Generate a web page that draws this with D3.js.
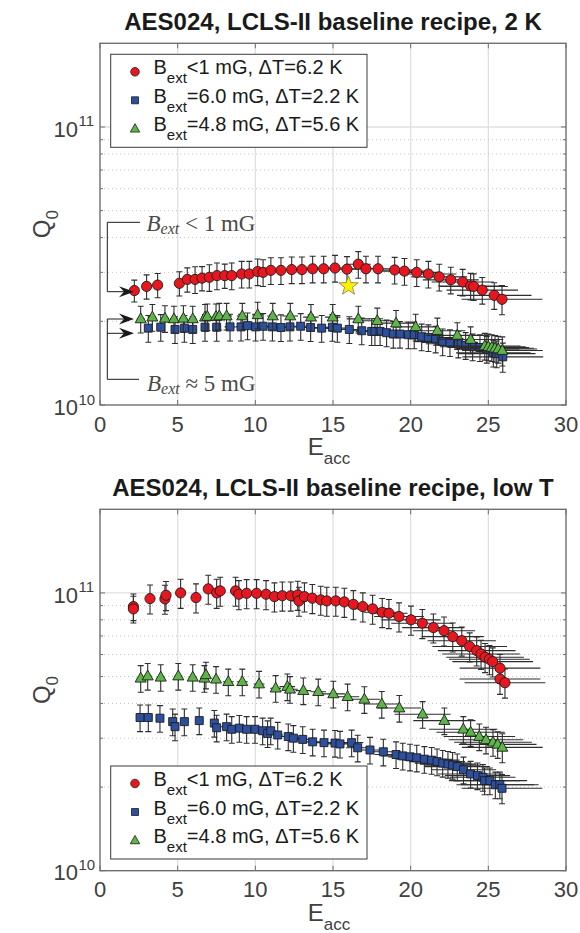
<!DOCTYPE html>
<html><head><meta charset="utf-8">
<script src="https://cdn.jsdelivr.net/npm/d3@7"></script>
<style>body{margin:0;background:#fff}svg{display:block}</style>
</head><body>
<svg id="c" width="580" height="933"></svg>
<script>
// ---------------- DATA ----------------
const xDomain = [0, 30];
const yDomain = [1e10, 2e11];
const xTickValues = [0, 5, 10, 15, 20, 25, 30];
const xTickLabels = ["0", "5", "10", "15", "20", "25", "30"];
const yMajorTicks = [1e10, 1e11];
const yTickExp = ["10", "11"];
const yMinorTicks = [2e10, 3e10, 4e10, 5e10, 6e10, 7e10, 8e10, 9e10];
const seriesNames = ["<1 mG, \u0394T=6.2 K", "=6.0 mG, \u0394T=2.2 K", "=4.8 mG, \u0394T=5.6 K"];
const titles = ["AES024, LCLS-II baseline recipe, 2 K", "AES024, LCLS-II baseline recipe, low T"];

// 2 K panel (Q0 in units of 1e10)
const redTopE = [2.21,3.0,3.71,5.11,5.62,6.12,6.57,7.04,7.53,8.03,8.48,9.12,9.61,10.15,10.5,11.0,11.65,12.34,13.0,13.69,14.4,15.13,15.9,16.63,17.12,17.9,18.97,19.6,20.39,21.14,21.84,22.58,23.35,23.86,24.06,24.61,25.38,25.88];
const redTopQ = [2.58,2.67,2.70,2.74,2.83,2.83,2.86,2.88,2.92,2.92,2.92,2.96,2.96,3.02,3.00,3.05,3.05,3.07,3.07,3.09,3.09,3.11,3.08,3.21,3.09,3.09,3.06,3.03,3.00,2.96,2.89,2.82,2.77,2.68,2.67,2.59,2.48,2.40];
const redTopXerr = [0.25,0.25,0.25,0.25,0.25,0.25,0.25,0.25,0.25,0.35,0.35,0.35,0.35,0.35,0.35,0.35,0.35,0.5,0.5,0.5,0.5,0.75,0.75,0.8,1.0,1.0,1.2,1.4,1.4,1.8,1.8,1.8,2.0,2.1,2.2,2.3,2.4,2.6];
const redTopYerr = [0.09,0.10,0.10,0.10,0.10,0.11,0.10,0.11,0.11,0.10,0.11,0.11,0.11,0.11,0.11,0.11,0.11,0.11,0.11,0.11,0.11,0.11,0.11,0.11,0.11,0.11,0.11,0.11,0.11,0.11,0.11,0.11,0.11,0.11,0.11,0.11,0.11,0.12];

const blueTopE = [3.11,3.91,4.83,5.43,5.97,6.76,7.51,8.37,9.08,9.5,10.02,10.5,11.1,11.65,12.23,12.92,13.56,14.27,14.96,15.28,16.05,16.85,17.49,17.7,18.03,18.45,18.88,19.31,19.85,20.23,20.71,21.14,21.61,22.06,22.53,23.07,23.54,23.99,24.46,24.9,25.32,25.54,25.93];
const blueTopQ = [1.89,1.905,1.87,1.89,1.87,1.905,1.905,1.91,1.91,1.93,1.91,1.92,1.91,1.90,1.91,1.92,1.90,1.89,1.905,1.89,1.87,1.85,1.84,1.84,1.84,1.82,1.80,1.80,1.79,1.79,1.76,1.75,1.73,1.69,1.68,1.66,1.64,1.62,1.61,1.59,1.54,1.53,1.49];
const blueTopXerr = [0.25,0.25,0.25,0.25,0.25,0.25,0.25,0.35,0.35,0.35,0.35,0.35,0.35,0.35,0.5,0.5,0.5,0.5,0.5,0.75,0.75,0.75,1.0,1.0,1.0,1.0,1.0,1.4,1.4,1.4,1.4,1.8,1.8,1.8,1.8,2.1,2.1,2.1,2.1,2.1,2.4,2.5,2.6];
const blueTopYerr = [0.11,0.11,0.11,0.11,0.11,0.11,0.11,0.11,0.11,0.11,0.11,0.11,0.11,0.11,0.11,0.11,0.11,0.11,0.11,0.11,0.11,0.11,0.11,0.11,0.11,0.11,0.11,0.11,0.11,0.11,0.11,0.11,0.11,0.11,0.11,0.11,0.11,0.11,0.11,0.11,0.11,0.11,0.12];

const greenTopE = [2.62,3.37,4.18,4.76,5.37,5.97,6.76,6.91,7.47,7.68,8.15,9.16,10.15,11.12,12.25,13.58,14.98,16.63,17.85,19.06,20.32,21.72,23.0,23.86,24.77,25.0,25.22,25.43,25.64,25.9];
const greenTopQ = [2.04,2.07,2.05,2.04,2.05,2.04,2.07,2.08,2.08,2.09,2.09,2.09,2.11,2.09,2.09,2.07,2.07,2.04,2.01,1.97,1.91,1.85,1.78,1.72,1.63,1.62,1.61,1.60,1.59,1.57];
const greenTopXerr = [0.25,0.25,0.25,0.25,0.25,0.25,0.25,0.25,0.25,0.25,0.35,0.35,0.35,0.35,0.5,0.5,0.5,0.75,1.0,1.2,1.4,1.8,2.0,2.1,2.3,2.4,2.4,2.5,2.5,2.6];
const greenTopYerr = [0.11,0.11,0.11,0.11,0.11,0.11,0.11,0.11,0.11,0.11,0.11,0.11,0.11,0.11,0.11,0.11,0.11,0.11,0.11,0.11,0.11,0.11,0.11,0.11,0.11,0.11,0.11,0.11,0.11,0.12];

const starE = [16.0];
const starQ = [2.68];

// low T panel (Q0 in units of 1e10)
const redLowE = [2.15,2.15,3.22,4.18,4.25,5.19,6.18,6.97,7.51,7.74,8.73,8.94,9.44,10.08,10.69,11.23,11.74,12.28,12.73,12.81,13.16,13.67,14.21,14.6,15.18,15.73,16.31,16.92,17.55,18.17,18.6,19.25,20.02,20.75,21.46,22.15,22.71,23.29,23.8,24.25,24.53,24.79,25.07,25.28,25.75,25.75,26.07];
const redLowQ = [8.93,8.76,9.54,9.52,9.81,10.0,9.62,10.34,10.0,10.17,10.17,9.89,9.97,9.97,9.89,9.70,9.77,9.77,9.83,9.36,9.70,9.57,9.44,9.36,9.36,9.28,9.10,8.93,8.76,8.52,8.45,8.22,8.0,7.78,7.5,7.31,6.96,6.73,6.41,6.20,6.03,5.87,5.77,5.66,5.36,4.90,4.75];
const redLowXerr = [0.25,0.25,0.25,0.25,0.25,0.25,0.25,0.25,0.25,0.25,0.35,0.35,0.35,0.35,0.35,0.35,0.35,0.5,0.5,0.5,0.5,0.5,0.5,0.5,0.75,0.75,0.75,0.75,1.2,1.2,1.2,1.6,1.9,2.0,2.0,2.0,2.0,2.2,2.4,2.5,2.5,2.5,2.6,2.6,2.6,2.6,2.6];
const redLowYerr = [0.11,0.11,0.12,0.12,0.12,0.12,0.12,0.12,0.12,0.12,0.12,0.12,0.12,0.12,0.12,0.12,0.12,0.12,0.12,0.12,0.12,0.12,0.12,0.12,0.12,0.12,0.12,0.12,0.12,0.12,0.12,0.12,0.12,0.12,0.12,0.12,0.12,0.12,0.12,0.12,0.12,0.12,0.12,0.12,0.12,0.12,0.12];

const blueLowE = [2.58,3.11,3.86,4.68,4.83,5.43,6.39,7.36,7.51,8.15,8.48,8.97,9.44,9.98,10.47,10.79,10.99,11.44,12.12,12.45,13.05,13.69,14.42,15.13,15.45,16.2,16.59,17.38,18.24,19.06,19.49,19.96,20.39,20.88,21.35,21.7,22.06,22.4,22.7,23.0,23.4,23.86,24.3,24.65,24.76,25.1,25.45,25.74,25.88];
const blueLowQ = [3.56,3.56,3.54,3.44,3.30,3.44,3.47,3.40,3.27,3.30,3.23,3.26,3.23,3.23,3.19,3.12,3.19,3.08,3.04,3.00,2.97,2.91,2.89,2.88,2.86,2.89,2.77,2.72,2.68,2.62,2.59,2.57,2.55,2.52,2.50,2.47,2.44,2.42,2.40,2.37,2.31,2.23,2.20,2.17,2.11,2.11,2.04,2.04,1.98];
const blueLowXerr = [0.25,0.25,0.25,0.25,0.25,0.25,0.25,0.25,0.25,0.35,0.35,0.35,0.35,0.35,0.35,0.35,0.35,0.35,0.5,0.5,0.5,0.5,0.5,0.75,0.75,0.75,0.75,1.0,1.0,1.4,1.4,1.4,1.4,1.8,1.8,1.8,1.8,1.8,1.8,2.1,2.1,2.1,2.1,2.1,2.3,2.4,2.5,2.5,2.6];
const blueLowYerr = [0.11,0.11,0.11,0.11,0.11,0.11,0.11,0.11,0.11,0.11,0.11,0.11,0.11,0.11,0.11,0.11,0.11,0.11,0.11,0.11,0.11,0.11,0.11,0.11,0.11,0.11,0.11,0.11,0.11,0.11,0.11,0.11,0.11,0.11,0.11,0.11,0.11,0.11,0.11,0.11,0.11,0.11,0.11,0.11,0.11,0.11,0.11,0.11,0.12];

const greenLowE = [2.62,3.07,3.91,5.04,5.97,6.72,6.82,7.47,8.26,9.16,10.24,11.31,12.06,12.23,13.09,14.05,15.02,15.94,17.02,18.14,19.27,20.77,22.17,23.39,23.86,24.42,24.85,25.3,25.6,25.9];
const greenLowQ = [4.93,5.02,4.97,5.02,4.97,4.93,5.07,4.89,4.79,4.79,4.70,4.54,4.60,4.50,4.45,4.41,4.33,4.23,4.14,3.98,3.85,3.66,3.47,3.23,3.15,3.04,2.96,2.90,2.85,2.78];
const greenLowXerr = [0.25,0.25,0.25,0.25,0.25,0.25,0.25,0.25,0.35,0.35,0.35,0.35,0.5,0.5,0.5,0.5,0.75,0.75,1.0,1.2,1.4,1.8,2.0,2.2,2.2,2.3,2.4,2.5,2.5,2.6];
const greenLowYerr = [0.11,0.11,0.11,0.11,0.11,0.11,0.11,0.11,0.11,0.11,0.11,0.11,0.11,0.11,0.11,0.11,0.11,0.11,0.11,0.11,0.11,0.11,0.11,0.11,0.11,0.11,0.11,0.11,0.11,0.12];

// ---------------- STYLE ----------------
const FONT = '"Liberation Sans", Arial, Helvetica, sans-serif';
const SERIF = '"Liberation Serif", "DejaVu Serif", serif';
const COL = { red: "#e8171f", blue: "#2c4f9e", green: "#5db548" };
const AXIS = "#6f6f6f", TXT = "#404040", EDGE = "#1c1c1c", BAR = "#2d2d2d";

const svg = d3.select("#c");

function markerPath(shape, s) {
  if (shape === "circle") return d3.symbol(d3.symbolCircle, Math.PI * s * s)();
  if (shape === "square") return `M${-s},${-s}H${s}V${s}H${-s}Z`;
  return `M0,${-s * 1.25}L${s * 1.15},${s * 0.8}L${-s * 1.15},${s * 0.8}Z`;
}

function drawSeries(g, x, y, s) {
  const pts = s.E.map((e, i) => ({ e, q: s.Q[i] * 1e10, xe: s.xerr[i], ye: s.yerr[i] }));
  const gs = g.append("g");
  gs.append("g").selectAll("path").data(pts).join("path")
    .attr("fill", "none").attr("stroke", BAR).attr("stroke-width", 1.1)
    .attr("d", p => {
      const cx = x(p.e), cy = y(p.q);
      const y1 = y(p.q * (1 - p.ye)), y2 = y(p.q * (1 + p.ye));
      const c = 3;
      return `M${cx},${y1}V${y2}M${cx - c},${y1}H${cx + c}M${cx - c},${y2}H${cx + c}` +
             `M${x(p.e - p.xe)},${cy}H${x(p.e + p.xe)}`;
    });
  gs.append("g").selectAll("path").data(pts).join("path")
    .attr("transform", p => `translate(${x(p.e)},${y(p.q)})`)
    .attr("d", markerPath(s.shape, s.size))
    .attr("fill", s.color).attr("stroke", EDGE).attr("stroke-width", 0.9);
}

function starPath(R, r) {
  let d = "";
  for (let i = 0; i < 10; i++) {
    const a = -Math.PI / 2 + i * Math.PI / 5;
    const rr = i % 2 ? r : R;
    d += (i ? "L" : "M") + (rr * Math.cos(a)).toFixed(2) + "," + (rr * Math.sin(a)).toFixed(2);
  }
  return d + "Z";
}

function arrowHead(g, tx, ty) {
  g.append("path")
    .attr("d", `M${tx},${ty}L${tx - 15},${ty - 5.5}L${tx - 10},${ty}L${tx - 15},${ty + 5.5}Z`)
    .attr("fill", "#1a1a1a");
}

function latexLabel(g, xx, yy, rest) {
  const t = g.append("text").attr("x", xx).attr("y", yy)
    .attr("font-family", SERIF).attr("font-size", 23).attr("fill", "#4a4a4a");
  t.append("tspan").attr("font-style", "italic").text("B");
  t.append("tspan").attr("font-style", "italic").attr("font-size", 16).attr("dy", 3).text("ext");
  t.append("tspan").attr("dy", -3).text(rest);
}

function panel(cfg) {
  const L = 100, R = 566;
  const x = d3.scaleLinear().domain(xDomain).range([L, R]);
  const y = d3.scaleLog().domain(yDomain).range([cfg.bottom, cfg.top]);
  const g = svg.append("g");

  // grid
  const grid = g.append("g");
  grid.selectAll("line.vx").data(xTickValues.slice(1, -1)).join("line")
    .attr("x1", d => x(d)).attr("x2", d => x(d)).attr("y1", cfg.top).attr("y2", cfg.bottom)
    .attr("stroke", "#e0e0e0").attr("stroke-width", 1.3);
  grid.selectAll("line.mi").data(yMinorTicks).join("line")
    .attr("x1", L).attr("x2", R).attr("y1", d => y(d)).attr("y2", d => y(d))
    .attr("stroke", "#c4c4c4").attr("stroke-width", 1).attr("stroke-dasharray", "1,3");
  grid.selectAll("line.ma").data(yMajorTicks.slice(1)).join("line")
    .attr("x1", L).attr("x2", R).attr("y1", d => y(d)).attr("y2", d => y(d))
    .attr("stroke", "#e0e0e0").attr("stroke-width", 1.3);

  cfg.series.forEach(s => drawSeries(g, x, y, s));

  if (cfg.star) {
    g.selectAll("path.star").data(starE.map((e, i) => ({ e, q: starQ[i] * 1e10 }))).join("path")
      .attr("transform", d => `translate(${x(d.e)},${y(d.q)})`)
      .attr("d", starPath(10.2, 4.1))
      .attr("fill", "#fff200").attr("stroke", "#7a7a4a").attr("stroke-width", 0.8);
  }

  if (cfg.notes) {
    const a = g.append("g");
    a.append("path").attr("d", `M140,222.3H107.3V291.7H125`).attr("fill", "none").attr("stroke", "#1a1a1a").attr("stroke-width", 1);
    arrowHead(a, 134, 291.7);
    latexLabel(a, 146.5, 230.5, " < 1 mG");
    a.append("path").attr("d", `M125,319H107.3V379.3H139M107.3,333.3H125`).attr("fill", "none").attr("stroke", "#1a1a1a").attr("stroke-width", 1);
    arrowHead(a, 134, 319);
    arrowHead(a, 134, 333.3);
    latexLabel(a, 147, 390.5, " \u2248 5 mG");
  }

  // box & ticks
  const ax = g.append("g").attr("stroke", AXIS).attr("fill", "none");
  ax.append("rect").attr("x", L).attr("y", cfg.top).attr("width", R - L).attr("height", cfg.bottom - cfg.top)
    .attr("stroke-width", 1.4);
  ax.selectAll("path.xt").data(xTickValues).join("path")
    .attr("d", d => `M${x(d)},${cfg.bottom}v-5M${x(d)},${cfg.top}v5`).attr("stroke-width", 1);
  ax.selectAll("path.yt").data(yMajorTicks).join("path")
    .attr("d", d => `M${L},${y(d)}h5M${R},${y(d)}h-5`).attr("stroke-width", 1);
  ax.selectAll("path.ym").data(yMinorTicks).join("path")
    .attr("d", d => `M${L},${y(d)}h3M${R},${y(d)}h-3`).attr("stroke-width", 1);

  // tick labels
  g.selectAll("text.xl").data(xTickValues).join("text")
    .attr("x", d => x(d)).attr("y", cfg.bottom + 26.5).attr("text-anchor", "middle")
    .attr("font-family", FONT).attr("font-size", 22).attr("fill", TXT)
    .text((d, i) => xTickLabels[i]);
  yMajorTicks.forEach((v, i) => {
    g.append("text").attr("x", 78).attr("y", y(v) + 9.7)
      .attr("font-family", FONT).attr("font-size", 22).attr("fill", TXT).attr("text-anchor", "end").text("10");
    g.append("text").attr("x", 78.5).attr("y", y(v) - 0.5)
      .attr("font-family", FONT).attr("font-size", 15).attr("fill", TXT).text(yTickExp[i]);
  });

  // axis labels
  const xl = g.append("text").attr("x", (L + R) / 2 - 4).attr("y", cfg.bottom + 50).attr("text-anchor", "middle")
    .attr("font-family", FONT).attr("font-size", 24).attr("fill", TXT);
  xl.append("tspan").text("E");
  xl.append("tspan").attr("font-size", 17).attr("dy", 9).text("acc");
  const cy = (cfg.top + cfg.bottom) / 2;
  const yl = g.append("text").attr("transform", `translate(50,${cy}) rotate(-90)`).attr("text-anchor", "middle")
    .attr("font-family", FONT).attr("font-size", 24).attr("fill", TXT);
  yl.append("tspan").text("Q");
  yl.append("tspan").attr("font-size", 17).attr("dy", 8).text("0");

  // title
  g.append("text").attr("x", (L + R) / 2).attr("y", cfg.top - 13.5).attr("text-anchor", "middle")
    .attr("font-family", FONT).attr("font-size", 24).attr("font-weight", "bold").attr("fill", "#1a1a1a")
    .text(cfg.title);

  // legend
  const lg = g.append("g");
  const lx = 110.7, lw = 256.3, ly = cfg.legendTop, lh = 93;
  lg.append("rect").attr("x", lx).attr("y", ly).attr("width", lw).attr("height", lh)
    .attr("fill", "#fff").attr("stroke", "#3a3a3a").attr("stroke-width", 1);
  cfg.series.forEach((s, i) => {
    const ey = ly + 17.5 + i * 28.5;
    lg.append("path").attr("transform", `translate(135,${ey})`)
      .attr("d", markerPath(s.shape, s.legendSize))
      .attr("fill", s.color).attr("stroke", EDGE).attr("stroke-width", 0.8);
    const t = lg.append("text").attr("x", 153.5).attr("y", ey + 2.5)
      .attr("font-family", FONT).attr("font-size", 20).attr("fill", "#1a1a1a");
    t.append("tspan").text("B");
    t.append("tspan").attr("font-size", 15).attr("dy", 9).text("ext");
    t.append("tspan").attr("dy", -9).text(seriesNames[i]);
  });
}

const mk = (E, Q, xerr, yerr, k) => ({
  E, Q, xerr, yerr,
  shape: ["circle", "square", "triangle"][k],
  color: [COL.red, COL.blue, COL.green][k],
  size: [5.1, 4.0, 4.8][k],
  legendSize: [4.3, 3.5, 4.1][k]
});

panel({
  top: 43.3, bottom: 405, title: titles[0], legendTop: 54.3, star: true, notes: true,
  series: [mk(redTopE, redTopQ, redTopXerr, redTopYerr, 0), mk(blueTopE, blueTopQ, blueTopXerr, blueTopYerr, 1), mk(greenTopE, greenTopQ, greenTopXerr, greenTopYerr, 2)]
});
panel({
  top: 509.3, bottom: 870.7, title: titles[1], legendTop: 766,
  series: [mk(redLowE, redLowQ, redLowXerr, redLowYerr, 0), mk(blueLowE, blueLowQ, blueLowXerr, blueLowYerr, 1), mk(greenLowE, greenLowQ, greenLowXerr, greenLowYerr, 2)]
});
</script>
</body></html>
